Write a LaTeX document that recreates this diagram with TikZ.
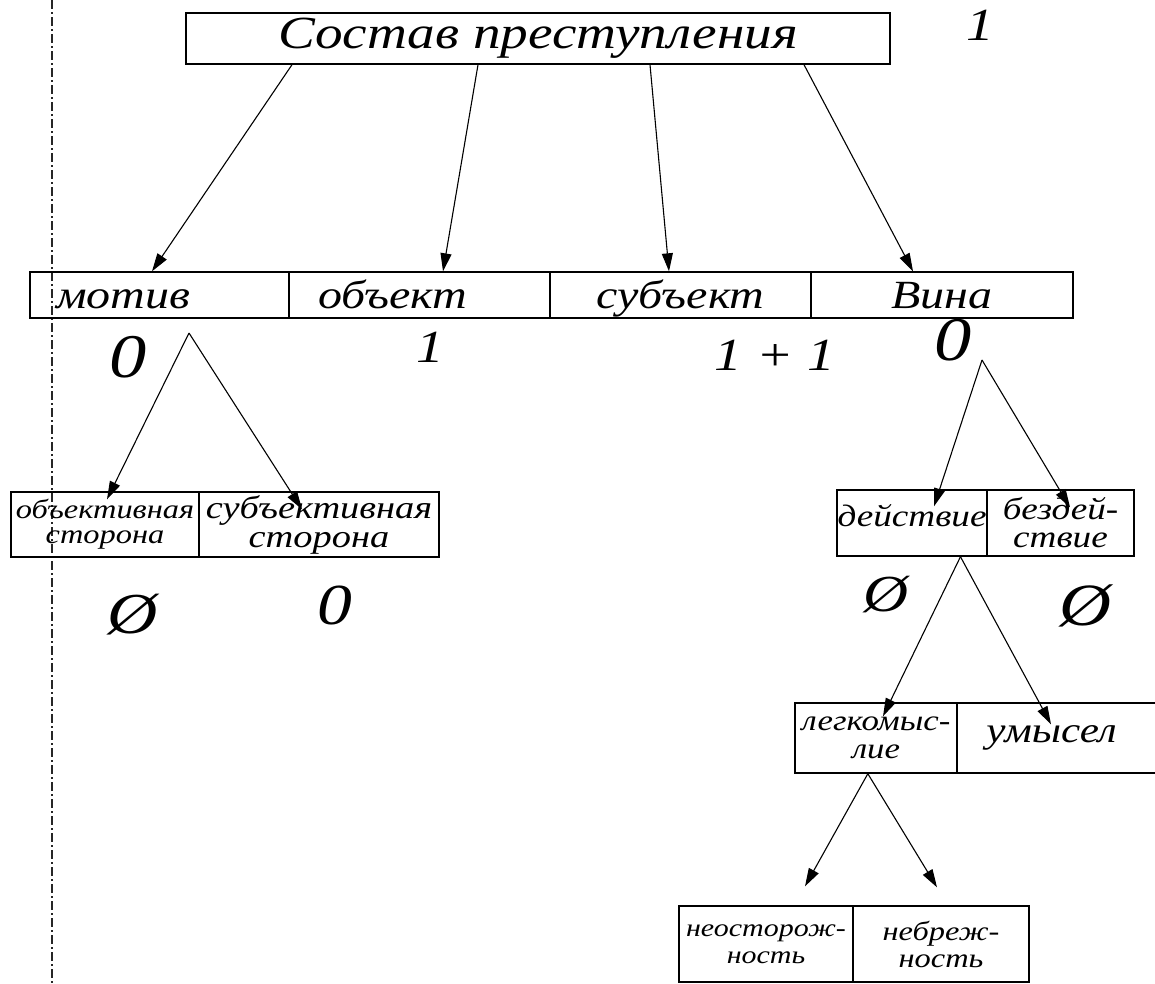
\documentclass[tikz,border=0pt]{standalone}
\usepackage{fontspec}
\setmainfont{Liberation Serif}
\newfontfamily\hand[FakeStretch=1.2]{Liberation Serif}
\usetikzlibrary{arrows.meta,calc}
\begin{document}
\begin{tikzpicture}[x=1pt,y=-1pt,
  cell/.style={draw, line width=1.4pt, inner sep=0pt, align=center},
  rowcell/.style={cell, minimum height=46pt, text height=36pt, text depth=10pt,
                  font={\hand\itshape\fontsize{40}{40}\selectfont}},
  conn/.style={line width=1.1pt, -{Triangle[length=18pt,width=11pt]}},
  tag/.style={inner sep=0pt}]
\useasboundingbox (0,0) rectangle (1155,983);
\fill[white] (0,0) rectangle (1155,983);
% margin line
\draw[line width=1.2pt, black!85, dash pattern=on 9pt off 3pt on 2pt off 3pt] (52,0) -- (52,983);

% title
\node[cell, minimum width=704pt, minimum height=51pt,
      font={\hand\itshape\fontsize{46}{46}\selectfont}] (top) at (538,38.5) {Состав преступления};
\node[tag, font={\hand\itshape\fontsize{46}{46}\selectfont}] (n1) at (980,25) {1};

% row
\node[rowcell, minimum width=259pt, text width=207pt, inner xsep=26pt, align=left] (motiv) at (159.5,295) {мотив};
\node[rowcell, minimum width=261pt, text width=203pt, inner xsep=29pt, align=left] (obekt) at (419.5,295) {объект};
\node[rowcell, minimum width=261pt] (subekt) at (680.5,295) {субъект};
\node[rowcell, minimum width=262pt] (vina) at (942,295) {Вина};

\draw[conn] ($(top.south)+(-246,0)$) -- ($(motiv.north)+(-7.5,0)$);
\draw[conn] ($(top.south)+(-60,0)$) -- ($(obekt.north)+(23.5,0)$);
\draw[conn] ($(top.south)+(112,0)$) -- ($(subekt.north)+(-11.5,0)$);
\draw[conn] ($(top.south)+(266,0)$) -- ($(vina.north)+(-29,0)$);

% marks under row
\node[tag, font={\hand\itshape\fontsize{62}{62}\selectfont}] (m0) at (128,357) {0};
\node[tag, font={\hand\itshape\fontsize{46}{46}\selectfont}] (m1) at (430,347) {1};
\node[tag, font={\hand\itshape\fontsize{46}{46}\selectfont}] (m2) at (775,355) {1 + 1};
\node[tag, font={\hand\itshape\fontsize{62}{62}\selectfont}] (m3) at (953,340) {0};

% left sub boxes
\node[cell, minimum width=188pt, minimum height=65pt,
      font={\hand\itshape\fontsize{27}{25}\selectfont}] (objside) at (105,524.5) {объективная\\сторона};
\node[cell, minimum width=240pt, minimum height=65pt,
      font={\hand\itshape\fontsize{32}{29}\selectfont}] (subjside) at (319,524.5) {субъективная\\сторона};
\coordinate (a1) at (189,333);
\draw[conn] (a1) -- ($(objside.north)+(2,8)$);
\draw[conn] (a1) -- ($(subjside.north)+(-17,18)$);
\node[tag, font={\hand\itshape\fontsize{58}{58}\selectfont}] (m4) at (133,615) {Ø};
\node[tag, font={\hand\itshape\fontsize{58}{58}\selectfont}] (m5) at (335,605) {0};

% right sub boxes
\node[cell, minimum width=150pt, minimum height=66pt, text height=36pt, text depth=30pt,
      font={\hand\itshape\fontsize{31}{30}\selectfont}] (deist) at (912,523) {действие};
\node[cell, minimum width=147pt, minimum height=66pt,
      font={\hand\itshape\fontsize{31}{28}\selectfont}] (bezd) at (1060.5,523) {бездей-\\ствие};
\coordinate (a2) at (982,360);
\draw[conn] (a2) -- ($(deist.north)+(22,17)$);
\draw[conn] (a2) -- ($(bezd.north)+(9.5,18)$);
\node[tag, font={\hand\itshape\fontsize{52}{52}\selectfont}] (m6) at (886,595) {Ø};
\node[tag, font={\hand\itshape\fontsize{60}{60}\selectfont}] (m7) at (1085,606) {Ø};

% guilt forms
\node[cell, minimum width=162pt, minimum height=70pt,
      font={\hand\itshape\fontsize{29}{28}\selectfont}] (legk) at (876,738) {легкомыс-\\лие};
\node[cell, minimum width=205pt, minimum height=70pt,
      font={\hand\itshape\fontsize{36}{36}\selectfont}] (umysel) at (1059.5,738) {\hspace*{-16pt}умысел};
\coordinate (a3) at ($(deist.south west)!0.82!(deist.south east)$);
\draw[conn] (a3) -- ($(legk.north)+(7,14)$);
\draw[conn] (a3) -- ($(umysel.north)+(-8.5,22)$);

% negligence forms
\node[cell, minimum width=174pt, minimum height=76pt,
      font={\hand\itshape\fontsize{25}{27}\selectfont}] (neost) at (766,944) {неосторож-\\ность};
\node[cell, minimum width=176pt, minimum height=76pt,
      font={\hand\itshape\fontsize{27}{27}\selectfont}] (nebr) at (941,944) {небреж-\\ность};
\coordinate (a4) at ($(legk.south west)!0.45!(legk.south east)$);
\draw[conn] (a4) -- ($(neost.north)+(39,-19)$);
\draw[conn] (a4) -- ($(nebr.north)+(-4,-18)$);
\end{tikzpicture}
\end{document}
